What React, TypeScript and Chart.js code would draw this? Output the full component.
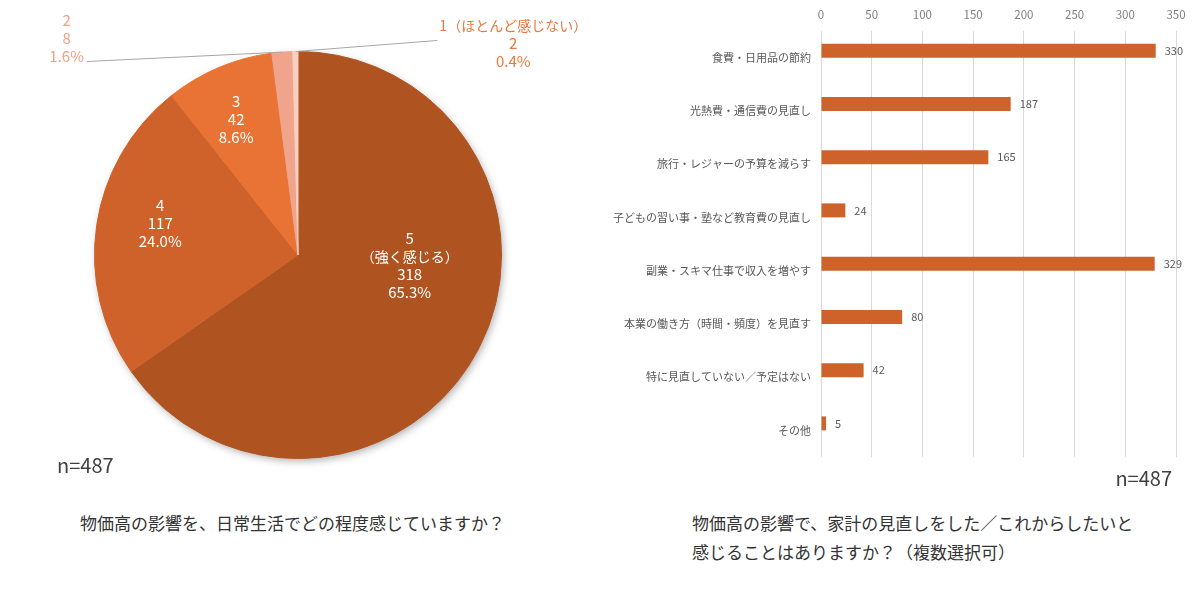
import React, { useEffect, useRef } from "react";
import { Chart, registerables } from "chart.js";

Chart.register(...registerables);

// ---------- data ----------
const pieNames = ["5\n（強く感じる）", "4", "3", "2", "1（ほとんど感じない）"];
const pieCounts = [318, 117, 42, 8, 2];
const pieTotal = 487;

const barCategories = [
  "食費・日用品の節約",
  "光熱費・通信費の見直し",
  "旅行・レジャーの予算を減らす",
  "子どもの習い事・塾など教育費の見直し",
  "副業・スキマ仕事で収入を増やす",
  "本業の働き方（時間・頻度）を見直す",
  "特に見直していない／予定はない",
  "その他",
];
const barValues = [330, 187, 165, 24, 329, 80, 42, 5];
const barAxisMax = 350;
const barAxisStep = 50;

const pieTitle = "物価高の影響を、日常生活でどの程度感じていますか？";
const barTitleLines = ["物価高の影響で、家計の見直しをした／これからしたいと", "感じることはありますか？（複数選択可）"];
const sampleNote = "n=487";

// ---------- styles ----------
const pieColors = ["#AF5421", "#CF622B", "#E87334", "#F0A48C", "#F7D0C2"];
const pieLabelColors = ["#FFFFFF", "#FFFFFF", "#FFFFFF", "#EFA087", "#E8783C"];
// label placement (polar, relative to pie centre/radius): angle clockwise from 12 o'clock, radius factor
const pieLabelAngles = [95.4, 283.1, 335.5, 313.1, 45.5];
const pieLabelRadius = [0.551, 0.695, 0.733, 1.557, 1.483];
const barColor = "#CE622B";
const JP = "'Noto Sans CJK JP', 'Noto Sans', sans-serif";

const pieLabelPlugin = {
  id: "pieLabelPlugin",
  beforeDatasetsDraw(chart: any) {
    const meta = chart.getDatasetMeta(0);
    const a = meta.data[0];
    if (!a) return;
    const { x, y, outerRadius } = a.getProps(["x", "y", "outerRadius"], true);
    const ctx = chart.ctx;
    ctx.save();
    ctx.shadowColor = "rgba(0,0,0,0.35)";
    ctx.shadowBlur = 9;
    ctx.shadowOffsetX = 2;
    ctx.shadowOffsetY = 3;
    ctx.fillStyle = "#ffffff";
    ctx.beginPath();
    ctx.arc(x, y, outerRadius - 1, 0, Math.PI * 2);
    ctx.fill();
    ctx.restore();
  },
  afterDatasetsDraw(chart: any) {
    const ctx = chart.ctx;
    const meta = chart.getDatasetMeta(0);
    const lineH = 18;
    meta.data.forEach((arc: any, i: number) => {
      const { x, y, outerRadius, startAngle, endAngle } = arc.getProps(
        ["x", "y", "outerRadius", "startAngle", "endAngle"],
        true
      );
      const names = pieNames[i].split("\n");
      const pct = ((pieCounts[i] / pieTotal) * 100).toFixed(1) + "%";
      const lines = [...names, String(pieCounts[i]), pct];
      const ang = (pieLabelAngles[i] * Math.PI) / 180;
      const d = pieLabelRadius[i] * outerRadius;
      const cx = x + d * Math.sin(ang);
      const cy = y - d * Math.cos(ang);
      ctx.save();
      ctx.fillStyle = pieLabelColors[i];
      ctx.textAlign = "center";
      ctx.textBaseline = "middle";
      let maxW = 0;
      lines.forEach((t, k) => {
        const isJp = /[^\x00-\x7F]/.test(t);
        ctx.font = (isJp ? "14px " : "15px ") + JP;
        maxW = Math.max(maxW, ctx.measureText(t).width);
        ctx.fillText(t, cx, cy + (k - (lines.length - 1) / 2) * lineH);
      });
      ctx.restore();
      if (pieLabelRadius[i] > 1) {
        // leader line from arc edge to the label side facing the pie
        const mid = (startAngle + endAngle) / 2;
        const ex = x + outerRadius * Math.cos(mid);
        const ey = y + outerRadius * Math.sin(mid);
        const halfH = (lines.length * lineH) / 2;
        const onLeft = cx < x;
        const px = onLeft ? cx + maxW / 2 + 3 : cx - maxW / 2 - 2;
        const py = onLeft ? cy + halfH - 4 : cy - 3;
        ctx.save();
        ctx.strokeStyle = "#A6A6A6";
        ctx.lineWidth = 1;
        ctx.beginPath();
        ctx.moveTo(ex, ey);
        ctx.lineTo(px, py);
        ctx.stroke();
        ctx.restore();
      }
    });
  },
};

const barValuePlugin = {
  id: "barValuePlugin",
  afterDatasetsDraw(chart: any) {
    const ctx = chart.ctx;
    const meta = chart.getDatasetMeta(0);
    ctx.save();
    ctx.font = "11px " + JP;
    ctx.fillStyle = "#595959";
    ctx.textAlign = "left";
    ctx.textBaseline = "middle";
    meta.data.forEach((bar: any, i: number) => {
      const { x, y } = bar.getProps(["x", "y"], true);
      ctx.fillText(String(barValues[i]), x + 9, y);
    });
    ctx.restore();
  },
};

function PieChart() {
  const ref = useRef<HTMLCanvasElement>(null);
  useEffect(() => {
    const chart = new Chart(ref.current!, {
      type: "pie",
      data: {
        labels: pieNames,
        datasets: [
          {
            data: pieCounts,
            backgroundColor: pieColors,
            borderColor: pieColors,
            borderWidth: 1,
          },
        ],
      },
      options: {
        animation: false,
        responsive: true,
        maintainAspectRatio: false,
        layout: { padding: { left: 94, right: 98, top: 51, bottom: 11 } },
        plugins: { legend: { display: false }, tooltip: { enabled: false } },
      },
      plugins: [pieLabelPlugin],
    });
    return () => chart.destroy();
  }, []);
  return <canvas ref={ref} />;
}

function BarChart() {
  const ref = useRef<HTMLCanvasElement>(null);
  useEffect(() => {
    const chart = new Chart(ref.current!, {
      type: "bar",
      data: {
        labels: barCategories,
        datasets: [
          {
            data: barValues,
            backgroundColor: barColor,
            borderWidth: 0,
            barPercentage: 1,
            categoryPercentage: 0.525,
          },
          {
            data: barValues.map(() => null),
            backgroundColor: "rgba(0,0,0,0)",
            barPercentage: 1,
            categoryPercentage: 0.525,
          },
        ],
      },
      options: {
        indexAxis: "y",
        animation: false,
        responsive: true,
        maintainAspectRatio: false,
        layout: { padding: { left: 0, right: 24, top: 0, bottom: 13 } },
        plugins: { legend: { display: false }, tooltip: { enabled: false } },
        scales: {
          x: {
            position: "top",
            min: 0,
            max: barAxisMax,
            ticks: {
              stepSize: barAxisStep,
              color: "#7F7F7F",
              font: { size: 11.5, family: JP },
              padding: 9,
            },
            grid: { color: "#D9D9D9", lineWidth: 1, drawTicks: false },
            border: { display: false },
            afterFit: (s: any) => {
              s.height = 31;
              s.paddingLeft = 0;
              s.paddingRight = 0;
            },
          },
          y: {
            ticks: {
              color: "#595959",
              font: { size: 11, family: JP },
              padding: 10,
            },
            grid: { display: false, drawTicks: false },
            border: { display: false },
            afterFit: (s: any) => {
              s.width = 221;
              s.paddingTop = 0;
              s.paddingBottom = 0;
            },
          },
        },
      },
      plugins: [barValuePlugin],
    });
    return () => chart.destroy();
  }, []);
  return <canvas ref={ref} />;
}

export default function App() {
  const textBase: React.CSSProperties = {
    position: "absolute",
    fontFamily: JP,
    whiteSpace: "nowrap",
    margin: 0,
  };
  return (
    <div
      style={{
        position: "absolute",
        left: 0,
        top: 0,
        width: 1200,
        height: 606,
        overflow: "hidden",
        background: "#ffffff",
      }}
    >
      <div style={{ position: "absolute", left: 0, top: 0, width: 600, height: 470 }}>
        <PieChart />
      </div>
      <div style={{ position: "absolute", left: 600, top: 0, width: 600, height: 470 }}>
        <BarChart />
      </div>
      <div style={{ ...textBase, left: 57, top: 452, fontSize: 20, lineHeight: "26px", color: "#404040" }}>
        {sampleNote}
      </div>
      <div style={{ ...textBase, right: 28, top: 465, fontSize: 20, lineHeight: "26px", color: "#404040" }}>
        {sampleNote}
      </div>
      <div style={{ ...textBase, left: 80, top: 508, fontSize: 17, lineHeight: "29px", color: "#333333" }}>
        {pieTitle}
      </div>
      <div style={{ ...textBase, left: 692, top: 508, fontSize: 17, lineHeight: "29px", color: "#333333" }}>
        {barTitleLines.map((t, i) => (
          <div key={i}>{t}</div>
        ))}
      </div>
    </div>
  );
}
